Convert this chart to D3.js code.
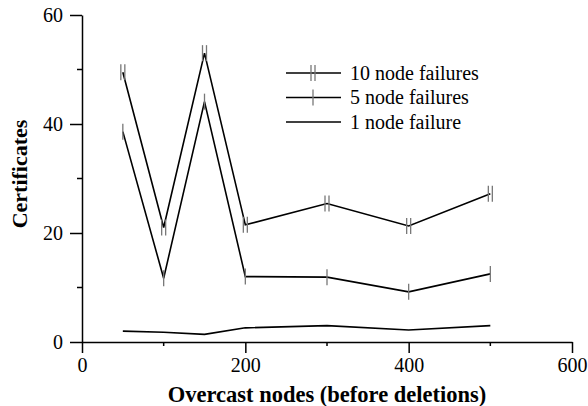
<!DOCTYPE html>
<html lang="en">
<head>
<meta charset="utf-8">
<title>Certificates</title>
<script src="https://cdn.jsdelivr.net/npm/d3@7"></script>
<style>
	body { margin: 0; background: #fff; }
	text { font-family: "Liberation Serif", "Times New Roman", serif; }
	.axis path, .axis line { stroke: #000; stroke-width: 1.5; fill: none; }
	.axis text { font-size: 20px; fill: #000; font-family: "Liberation Serif", "Times New Roman", serif; }
</style>
</head>
<body>
<script>

// data
var nodes = [50, 100, 150, 200, 300, 400, 500];
var fail10 = [49.5, 21.0, 53.0, 21.5, 25.4, 21.3, 27.2];
var fail5 = [38.6, 11.7, 44.1, 12.0, 11.9, 9.2, 12.5];
var fail1 = [2.0, 1.8, 1.4, 2.6, 3.0, 2.2, 3.0];
var seriesNames = ["10 node failures", "5 node failures", "1 node failure"];
var xTicks = [0, 200, 400, 600];
var xMinor = [100, 300, 500];
var yTicks = [0, 20, 40, 60];
var yMinor = [10, 30, 50];

var width = 588, height = 406;
var margin = {top: 15, right: 16, bottom: 64, left: 82};

var svg = d3.select("body").append("svg")
	.attr("width", width)
	.attr("height", height);

var xScale = d3.scaleLinear().domain([0, 600]).range([margin.left, width - margin.right]);
var yScale = d3.scaleLinear().domain([0, 60]).range([height - margin.bottom, margin.top]);

// axes
var xAxis = d3.axisBottom(xScale).tickValues(xTicks).tickSize(11).tickPadding(5).tickSizeOuter(0);
var yAxis = d3.axisLeft(yScale).tickValues(yTicks).tickSize(12).tickPadding(7).tickSizeOuter(0);

var gx = svg.append("g").attr("class", "axis")
	.attr("transform", "translate(0," + yScale(0) + ")")
	.call(xAxis);
gx.selectAll(".minor").data(xMinor).enter().append("line")
	.attr("x1", function(d) { return xScale(d); })
	.attr("x2", function(d) { return xScale(d); })
	.attr("y1", 0).attr("y2", 4);

var gy = svg.append("g").attr("class", "axis")
	.attr("transform", "translate(" + xScale(0) + ",0)")
	.call(yAxis);
gy.selectAll(".minor").data(yMinor).enter().append("line")
	.attr("y1", function(d) { return yScale(d); })
	.attr("y2", function(d) { return yScale(d); })
	.attr("x1", 0).attr("x2", -5);

// axis titles
svg.append("text")
	.attr("x", xScale(300)).attr("y", 402)
	.attr("text-anchor", "middle")
	.style("font-size", "22.5px").style("font-weight", "bold")
	.text("Overcast nodes (before deletions)");

svg.append("text")
	.attr("transform", "translate(27," + 174 + ") rotate(-90)")
	.attr("text-anchor", "middle")
	.style("font-size", "22px").style("font-weight", "bold")
	.text("Certificates");

// lines
var line = d3.line()
	.x(function(d, i) { return xScale(nodes[i]); })
	.y(function(d) { return yScale(d); });

var allSeries = [fail10, fail5, fail1];
var markTypes = [2, 1, 0];

allSeries.forEach(function(s, k) {
	svg.append("path")
		.attr("d", line(s))
		.attr("fill", "none")
		.attr("stroke", "#000")
		.attr("stroke-width", 1.6);

	// grey vertical markers
	var offs = markTypes[k] == 2 ? [-2, 2] : (markTypes[k] == 1 ? [0] : []);
	offs.forEach(function(o) {
		svg.selectAll(null).data(s).enter().append("line")
			.attr("x1", function(d, i) { return xScale(nodes[i]) + o; })
			.attr("x2", function(d, i) { return xScale(nodes[i]) + o; })
			.attr("y1", function(d) { return yScale(d) - 8; })
			.attr("y2", function(d) { return yScale(d) + 8; })
			.attr("stroke", "#777")
			.attr("stroke-width", 1.3);
	});
});

// legend
var legend = svg.append("g");
var legY = [73, 97.5, 122];
seriesNames.forEach(function(name, k) {
	legend.append("line")
		.attr("x1", 286).attr("x2", 341)
		.attr("y1", legY[k]).attr("y2", legY[k])
		.attr("stroke", "#000").attr("stroke-width", 1.6);
	var offs = markTypes[k] == 2 ? [-2, 2] : (markTypes[k] == 1 ? [0] : []);
	offs.forEach(function(o) {
		legend.append("line")
			.attr("x1", 313 + o).attr("x2", 313 + o)
			.attr("y1", legY[k] - 8).attr("y2", legY[k] + 8)
			.attr("stroke", "#777").attr("stroke-width", 1.3);
	});
	legend.append("text")
		.attr("x", 350).attr("y", legY[k] + 6.5)
		.style("font-size", "20px")
		.text(name);
});

</script>
</body>
</html>
